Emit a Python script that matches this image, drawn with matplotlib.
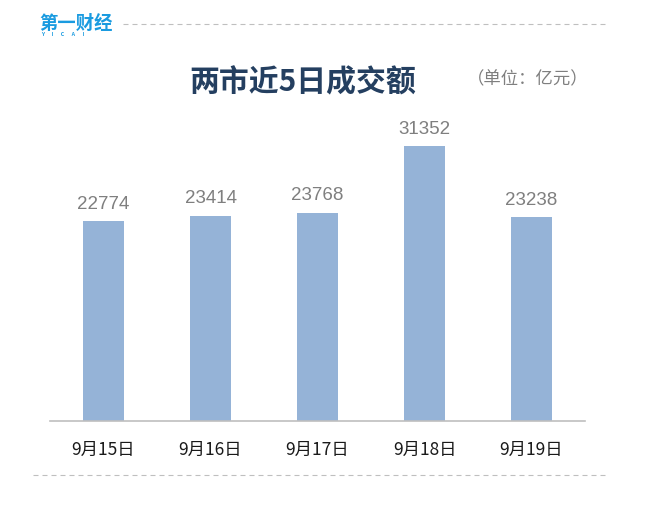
import matplotlib.pyplot as plt
from matplotlib.lines import Line2D

plt.rcParams['font.family'] = ['Noto Sans CJK SC', 'DejaVu Sans']

dates = ["9月15日", "9月16日", "9月17日", "9月18日", "9月19日"]
amounts = [22774, 23414, 23768, 31352, 23238]

fig = plt.figure(figsize=(6.59, 5.2), dpi=100)
ax = fig.add_axes([0.0759, 0.1904, 0.8118, 0.598])

x = range(len(dates))
bars = ax.bar(x, amounts, width=0.39, color="#95b3d7")
ax.set_xlim(-0.5, len(dates) - 0.5)
ax.set_ylim(0, 35456)

# value labels above bars
for xi, v in zip(x, amounts):
    ax.annotate(str(v), (xi, v), xytext=(0, 6), textcoords="offset points",
                ha="center", va="bottom", fontsize=13.5, color="#7f7f7f",
                family=["Liberation Sans", "DejaVu Sans"])

ax.set_xticks(list(x))
ax.set_xticklabels(dates, fontsize=12.5, color="#1a1a1a")
ax.tick_params(axis="x", length=0, pad=14)
ax.set_yticks([])
for side in ["top", "right", "left"]:
    ax.spines[side].set_visible(False)
ax.spines["bottom"].set_color("#bfbfbf")
ax.spines["bottom"].set_linewidth(1.2)

# title and unit
fig.text(303 / 659, 1 - 82 / 520, "两市近5日成交额", ha="center", va="center",
         fontsize=21.5, fontweight="bold", color="#243f60")
fig.text(528 / 659, 1 - 79 / 520, "（单位：亿元）", ha="center", va="center",
         fontsize=12.5, color="#7f7f7f")

# logo
fig.text(39 / 659, 1 - 23 / 520, "第一财经", ha="left", va="center",
         fontsize=13.2, fontweight="bold", color="#1a9be0")
fig.text(41 / 659, 1 - 34 / 520, "Y      I      C      A      I", ha="left",
         va="center", fontsize=3.8, fontweight="bold", color="#1a9be0")

# dashed separator lines
dash = (0, (4.5, 3.6))
fig.add_artist(Line2D([123 / 659, 607 / 659], [1 - 24 / 520, 1 - 24 / 520],
                      transform=fig.transFigure, color="#bfbfbf",
                      linestyle=dash, linewidth=0.8))
fig.add_artist(Line2D([33 / 659, 607 / 659], [1 - 475 / 520, 1 - 475 / 520],
                      transform=fig.transFigure, color="#bfbfbf",
                      linestyle=dash, linewidth=0.8))

plt.savefig("out.png", dpi=100)
